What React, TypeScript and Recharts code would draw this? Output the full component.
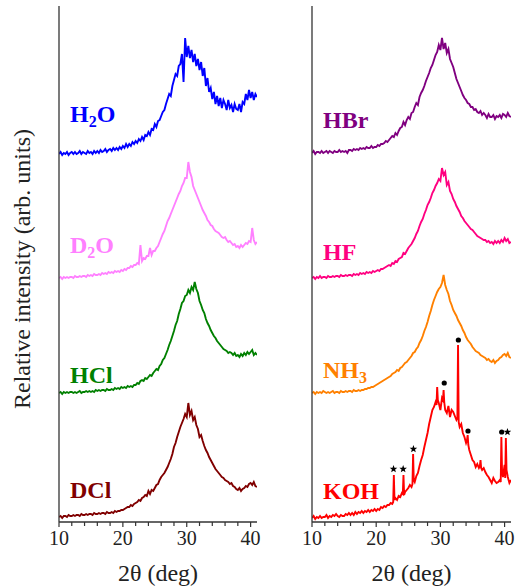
import React from "react";
import { ComposedChart, Line, Scatter, XAxis, YAxis } from "recharts";

// 2-theta sampling grid (deg), shared by the smooth traces
const theta = Array.from({ length: 125 }, (_, i) => 10 + i * 0.25);

// intensities above each trace's own baseline (arb. units)
const h2o = [
  0, 2, -1, 1, 0, 2, -1, 1, 2, 0, 2, 0, 1, 3, 0, 2, 1, 0, 3, 1, 2, 0, 3, 1,
  3, 1, 4, 2, 3, 5, 2, 4, 5, 3, 6, 4, 6, 4, 7, 5, 8, 6, 10, 7, 10, 8, 12, 10,
  13, 11, 15, 13, 17, 14, 19, 18, 22, 19, 25, 24, 30, 27, 33, 34, 38, 42, 44, 50,
  55, 60, 58, 68, 74, 80, 78, 88, 90, 100, 72, 116, 97, 108, 96, 104, 92, 100, 88, 95,
  84, 92, 78, 86, 68, 76, 62, 66, 55, 62, 50, 58, 48, 56, 46, 54, 50, 44, 54, 46,
  49, 42, 50, 45, 44, 50, 42, 52, 50, 60, 54, 64, 56, 62, 54, 60, 57,
];
const d2o = [
  0, 1, -1, 1, 0, 1, 0, 1, 1, 0, 2, 1, 1, 2, 1, 2, 2, 1, 3, 2, 3, 2, 4, 3,
  3, 4, 3, 5, 4, 5, 4, 6, 5, 6, 5, 7, 6, 7, 6, 8, 7, 9, 8, 10, 10, 12, 11, 13,
  13, 15, 14, 33, 17, 20, 19, 22, 22, 30, 23, 27, 27, 30, 32, 36, 40, 44, 47, 52,
  57, 60, 64, 68, 72, 76, 80, 84, 87, 92, 95, 100, 100, 116, 106, 101, 92, 88, 84, 80,
  76, 72, 68, 65, 62, 58, 56, 53, 52, 49, 47, 46, 45, 43, 41, 40, 41, 38, 36, 37,
  35, 33, 34, 31, 32, 30, 33, 31, 33, 35, 34, 37, 36, 50, 38, 34, 36,
];
const hcl = [
  0, 1, -1, 1, 0, 1, 0, 1, 1, 0, 1, 0, 1, 2, 0, 1, 1, 2, 1, 2, 1, 2, 1, 3,
  2, 3, 2, 3, 3, 2, 4, 3, 3, 4, 3, 5, 4, 5, 4, 6, 5, 6, 5, 7, 6, 7, 6, 8,
  8, 10, 9, 12, 13, 12, 15, 14, 16, 18, 17, 20, 22, 24, 23, 27, 29, 33, 35, 39,
  43, 48, 52, 57, 62, 68, 72, 79, 84, 90, 92, 97, 98, 103, 100, 106, 103, 111, 104, 100,
  92, 88, 83, 80, 74, 70, 67, 63, 60, 57, 55, 52, 50, 48, 46, 44, 43, 42, 40, 41,
  40, 38, 40, 37, 38, 36, 39, 37, 40, 38, 41, 39, 41, 43, 38, 40, 38,
];
const dcl = [
  0, 1, -1, 1, 1, 0, 2, 1, 1, 2, 1, 2, 2, 1, 3, 2, 2, 3, 2, 3, 3, 2, 4, 3,
  3, 4, 3, 4, 4, 3, 5, 4, 4, 5, 4, 6, 5, 6, 6, 7, 7, 8, 9, 10, 10, 12, 11, 13,
  14, 15, 17, 16, 19, 20, 22, 21, 26, 23, 27, 26, 29, 32, 33, 37, 40, 42, 44, 47,
  50, 54, 58, 63, 70, 74, 80, 85, 90, 94, 98, 103, 100, 114, 102, 106, 97, 100, 92, 88,
  80, 82, 76, 71, 67, 64, 60, 57, 54, 51, 48, 46, 44, 42, 40, 39, 37, 36, 35, 33,
  34, 31, 30, 28, 27, 29, 26, 28, 29, 31, 30, 33, 34, 32, 35, 31, 30,
];
const hbr = [
  0, 2, -1, 1, 1, 0, 2, 0, 1, 2, 0, 2, 1, 0, 2, 1, 1, 3, 1, 2, 1, 2, 0, 3,
  3, 2, 4, 3, 4, 3, 5, 4, 5, 4, 6, 5, 5, 7, 5, 6, 6, 8, 7, 9, 9, 10, 12, 11,
  13, 15, 17, 16, 20, 18, 22, 25, 26, 31, 28, 33, 36, 34, 40, 41, 46, 50, 48, 56,
  60, 63, 67, 72, 76, 80, 85, 88, 93, 98, 101, 108, 103, 115, 104, 110, 100, 104, 94, 90,
  86, 80, 74, 70, 66, 62, 58, 55, 53, 50, 49, 46, 46, 43, 44, 41, 40, 42, 38, 40,
  38, 35, 39, 36, 36, 38, 34, 37, 36, 38, 35, 39, 38, 36, 40, 37, 36,
];
const hf = [
  0, 1, -1, 1, 0, 2, 0, 1, 1, 0, 2, 1, 1, 2, 1, 2, 2, 1, 3, 2, 2, 3, 2, 3,
  3, 2, 4, 3, 4, 3, 5, 4, 5, 4, 6, 5, 6, 5, 7, 6, 7, 8, 7, 9, 9, 10, 11, 12,
  13, 12, 15, 14, 17, 16, 19, 20, 21, 25, 24, 27, 30, 32, 34, 37, 40, 44, 47, 52,
  56, 59, 64, 68, 73, 76, 80, 85, 88, 92, 95, 99, 97, 110, 103, 106, 93, 96, 87, 84,
  79, 76, 72, 69, 66, 62, 60, 57, 55, 53, 51, 49, 48, 46, 44, 42, 41, 40, 39, 38,
  38, 36, 37, 35, 36, 34, 37, 35, 37, 35, 38, 36, 40, 37, 39, 35, 36,
];
const nh3 = [
  0, 1, -1, 1, 0, 1, 0, 2, 1, 0, 1, 0, 1, 2, 0, 1, 1, 0, 2, 1, 1, 2, 1, 2,
  2, 1, 3, 2, 2, 3, 2, 3, 3, 4, 4, 5, 5, 6, 6, 7, 8, 9, 10, 11, 12, 13, 14, 15,
  16, 17, 19, 20, 21, 23, 22, 25, 26, 28, 30, 31, 33, 35, 37, 40, 41, 44, 46, 50,
  53, 57, 62, 66, 71, 77, 82, 88, 93, 97, 101, 104, 106, 110, 118, 108, 103, 99, 92, 88,
  83, 80, 77, 73, 70, 67, 63, 60, 56, 53, 51, 49, 46, 44, 42, 41, 40, 38, 37, 36,
  35, 33, 34, 32, 31, 33, 30, 32, 33, 35, 36, 38, 39, 37, 40, 36, 35,
];

// KOH has sharp crystalline reflections, so it carries its own grid
const kohTheta = [
  10, 10.25, 10.5, 10.75, 11, 11.25, 11.5, 11.75, 12, 12.25, 12.5, 12.75,
  13, 13.25, 13.5, 13.75, 14, 14.25, 14.5, 14.75, 15, 15.25, 15.5, 15.75,
  16, 16.25, 16.5, 16.75, 17, 17.25, 17.5, 17.75, 18, 18.25, 18.5, 18.75,
  19, 19.25, 19.5, 19.75, 20, 20.25, 20.5, 20.75, 21, 21.25, 21.5, 21.75,
  22, 22.25, 22.5, 22.65, 22.75, 22.85, 23, 23.25, 23.5, 23.75,
  24, 24.15, 24.25, 24.35, 24.5, 24.75, 25, 25.25, 25.5, 25.65, 25.75, 25.85,
  26, 26.25, 26.5, 26.75, 27, 27.25, 27.5, 27.75, 28, 28.25, 28.5, 28.75,
  29, 29.25, 29.4, 29.5, 29.6, 29.75, 30, 30.25, 30.4, 30.5, 30.6, 30.75,
  31, 31.25, 31.5, 31.75, 32, 32.25, 32.5, 32.65, 32.75, 32.85,
  33, 33.25, 33.5, 33.75, 34, 34.15, 34.25, 34.35, 34.5, 34.75,
  35, 35.25, 35.5, 35.75, 36, 36.15, 36.25, 36.35, 36.5, 36.75,
  37, 37.25, 37.5, 37.75, 38, 38.25, 38.5, 38.75,
  39, 39.25, 39.4, 39.5, 39.6, 39.75, 40, 40.1, 40.2, 40.3, 40.5, 40.75, 41,
];
const koh = [
  0, 2, -1, 1, 0, 2, 0, 1, 1, 3, 0, 2,
  1, 3, 2, 4, 2, 1, 3, 2, 2, 4, 3, 5,
  3, 5, 3, 6, 4, 6, 5, 7, 5, 7, 6, 8,
  6, 8, 7, 9, 7, 9, 8, 11, 10, 12, 11, 13,
  13, 15, 14, 16, 43, 18, 20, 18, 22, 21,
  25, 24, 43, 23, 26, 28, 30, 33, 31, 34, 64, 38,
  36, 42, 45, 52, 58, 63, 71, 78, 85, 94, 101, 108,
  111, 116, 113, 131, 118, 115, 108, 120, 118, 128, 116, 108,
  105, 112, 101, 108, 106, 102, 98, 100, 173, 96,
  91, 94, 85, 81, 75, 78, 83, 73, 68, 63,
  58, 56, 51, 54, 50, 52, 58, 50, 48, 50,
  46, 43, 41, 38, 35, 40, 37, 35,
  36, 38, 36, 81, 48, 41, 53, 40, 80, 48, 41, 35, 38,
];

// reflection markers on the KOH pattern
const starTheta = [22.7, 24.2, 25.8, 40.45];
const starIntensity = [49, 49, 69, 86];
const dotTheta = [30.6, 32.8, 34.3, 39.55];
const dotIntensity = [135, 178, 87, 86];

// vertical stacking of the traces
const leftOffsets = { h2o: 368, d2o: 244, hcl: 129, dcl: 5 };
const rightOffsets = { hbr: 369, hf: 244, nh3: 129, koh: 4 };

const xTicks = [10, 12, 14, 16, 18, 20, 22, 24, 26, 28, 30, 32, 34, 36, 38, 40];
const FONT = "Liberation Serif";
const AXIS = "#333333";

const toPoints = (xs: number[], ys: number[], offset: number) =>
  xs.map((x, i) => ({ x, y: ys[i] + offset }));

const XTick = (props: any) => {
  const { x, y, payload } = props;
  const major = payload.value % 10 === 0;
  return (
    <g>
      <line x1={x} y1={y} x2={x} y2={y + (major ? 5 : 4)} stroke={AXIS} strokeWidth={1.2} />
      {major && (
        <text
          x={x}
          y={y + 23}
          textAnchor="middle"
          style={{ fontFamily: FONT, fontSize: 20 }}
          fill="#222"
        >
          {payload.value}
        </text>
      )}
    </g>
  );
};

const starPath = (cx: number, cy: number, r: number) => {
  const pts: string[] = [];
  for (let k = 0; k < 10; k++) {
    const rad = k % 2 === 0 ? r : r * 0.42;
    const a = -Math.PI / 2 + (k * Math.PI) / 5;
    pts.push(`${cx + rad * Math.cos(a)},${cy + rad * Math.sin(a)}`);
  }
  return `M${pts.join("L")}Z`;
};

const StarShape = (props: any) => <path d={starPath(props.cx, props.cy, 4)} fill="#000" />;
const DotShape = (props: any) => <circle cx={props.cx} cy={props.cy} r={2.6} fill="#000" />;

const Panel = ({
  width,
  yWidth,
  right,
  series,
  children,
}: {
  width: number;
  yWidth: number;
  right: number;
  series: { data: { x: number; y: number }[]; color: string }[];
  children?: React.ReactNode;
}) => (
  <ComposedChart width={width} height={587} margin={{ top: 6, right, bottom: 0, left: 0 }}>
    <XAxis
      dataKey="x"
      type="number"
      domain={[10, 41]}
      allowDataOverflow
      ticks={xTicks}
      interval={0}
      tick={<XTick />}
      tickLine={false}
      tickSize={0}
      tickMargin={0}
      height={65}
      stroke={AXIS}
      strokeWidth={1.3}
    />
    <XAxis
      xAxisId="top"
      orientation="top"
      type="number"
      domain={[10, 41]}
      tick={false}
      tickLine={false}
      height={0}
      stroke={AXIS}
      strokeWidth={1.3}
    />
    <YAxis
      type="number"
      domain={[0, 516]}
      allowDataOverflow
      width={yWidth}
      tick={false}
      tickLine={false}
      stroke={AXIS}
      strokeWidth={1.3}
    />
    <YAxis
      yAxisId="right"
      orientation="right"
      type="number"
      domain={[0, 516]}
      width={0}
      tick={false}
      tickLine={false}
      stroke={AXIS}
      strokeWidth={1.3}
    />
    {series.map((s, i) => (
      <Line
        key={i}
        data={s.data}
        dataKey="y"
        type="linear"
        dot={false}
        stroke={s.color}
        strokeWidth={1.9}
        strokeLinejoin="miter"
        isAnimationActive={false}
      />
    ))}
    {children}
  </ComposedChart>
);

const labelStyle = { fontFamily: FONT, fontWeight: 700, fontSize: 24 } as const;
const titleStyle = { fontFamily: FONT, fontSize: 24 } as const;

export default function App() {
  const leftSeries = [
    { data: toPoints(theta, h2o, leftOffsets.h2o), color: "#0000ff" },
    { data: toPoints(theta, d2o, leftOffsets.d2o), color: "#ff80ff" },
    { data: toPoints(theta, hcl, leftOffsets.hcl), color: "#008000" },
    { data: toPoints(theta, dcl, leftOffsets.dcl), color: "#800000" },
  ];
  const rightSeries = [
    { data: toPoints(theta, hbr, rightOffsets.hbr), color: "#800080" },
    { data: toPoints(theta, hf, rightOffsets.hf), color: "#ff0080" },
    { data: toPoints(theta, nh3, rightOffsets.nh3), color: "#ff8000" },
    { data: toPoints(kohTheta, koh, rightOffsets.koh), color: "#ff0000" },
  ];
  const stars = toPoints(starTheta, starIntensity, rightOffsets.koh);
  const dots = toPoints(dotTheta, dotIntensity, rightOffsets.koh);

  return (
    <div style={{ position: "absolute", left: 0, top: 0, width: 518, height: 587, background: "#fff" }}>
      <div style={{ position: "absolute", left: 0, top: 0 }}>
        <Panel width={262} yWidth={59} right={5} series={leftSeries} />
      </div>
      <div style={{ position: "absolute", left: 262, top: 0 }}>
        <Panel width={256} yWidth={50} right={7} series={rightSeries}>
          <Scatter data={stars} dataKey="y" shape={<StarShape />} isAnimationActive={false} />
          <Scatter data={dots} dataKey="y" shape={<DotShape />} isAnimationActive={false} />
        </Panel>
      </div>
      <svg
        width={518}
        height={587}
        style={{ position: "absolute", left: 0, top: 0, pointerEvents: "none" }}
      >
        <text transform="rotate(-90)" x={-269} y={30} textAnchor="middle" fill="#222" style={titleStyle}>
          Relative intensity (arb. units)
        </text>
        <text x={158} y={581} textAnchor="middle" fill="#222" style={titleStyle}>
          2θ (deg)
        </text>
        <text x={411.5} y={581} textAnchor="middle" fill="#222" style={titleStyle}>
          2θ (deg)
        </text>

        <text x={70} y={122} fill="#0000ff" style={labelStyle}>
          H<tspan style={{ fontSize: 16 }} dy={5}>2</tspan>
          <tspan dy={-5}>O</tspan>
        </text>
        <text x={70} y={253} fill="#ff80ff" style={labelStyle}>
          D<tspan style={{ fontSize: 16 }} dy={5}>2</tspan>
          <tspan dy={-5}>O</tspan>
        </text>
        <text x={70} y={383} fill="#008000" style={labelStyle}>
          HCl
        </text>
        <text x={70} y={498} fill="#800000" style={labelStyle}>
          DCl
        </text>
        <text x={323} y={128} fill="#800080" style={labelStyle}>
          HBr
        </text>
        <text x={323} y={260} fill="#ff0080" style={labelStyle}>
          HF
        </text>
        <text x={323} y={378} fill="#ff8000" style={labelStyle}>
          NH<tspan style={{ fontSize: 16 }} dy={5}>3</tspan>
        </text>
        <text x={323} y={499} fill="#ff0000" style={labelStyle}>
          KOH
        </text>
      </svg>
    </div>
  );
}
